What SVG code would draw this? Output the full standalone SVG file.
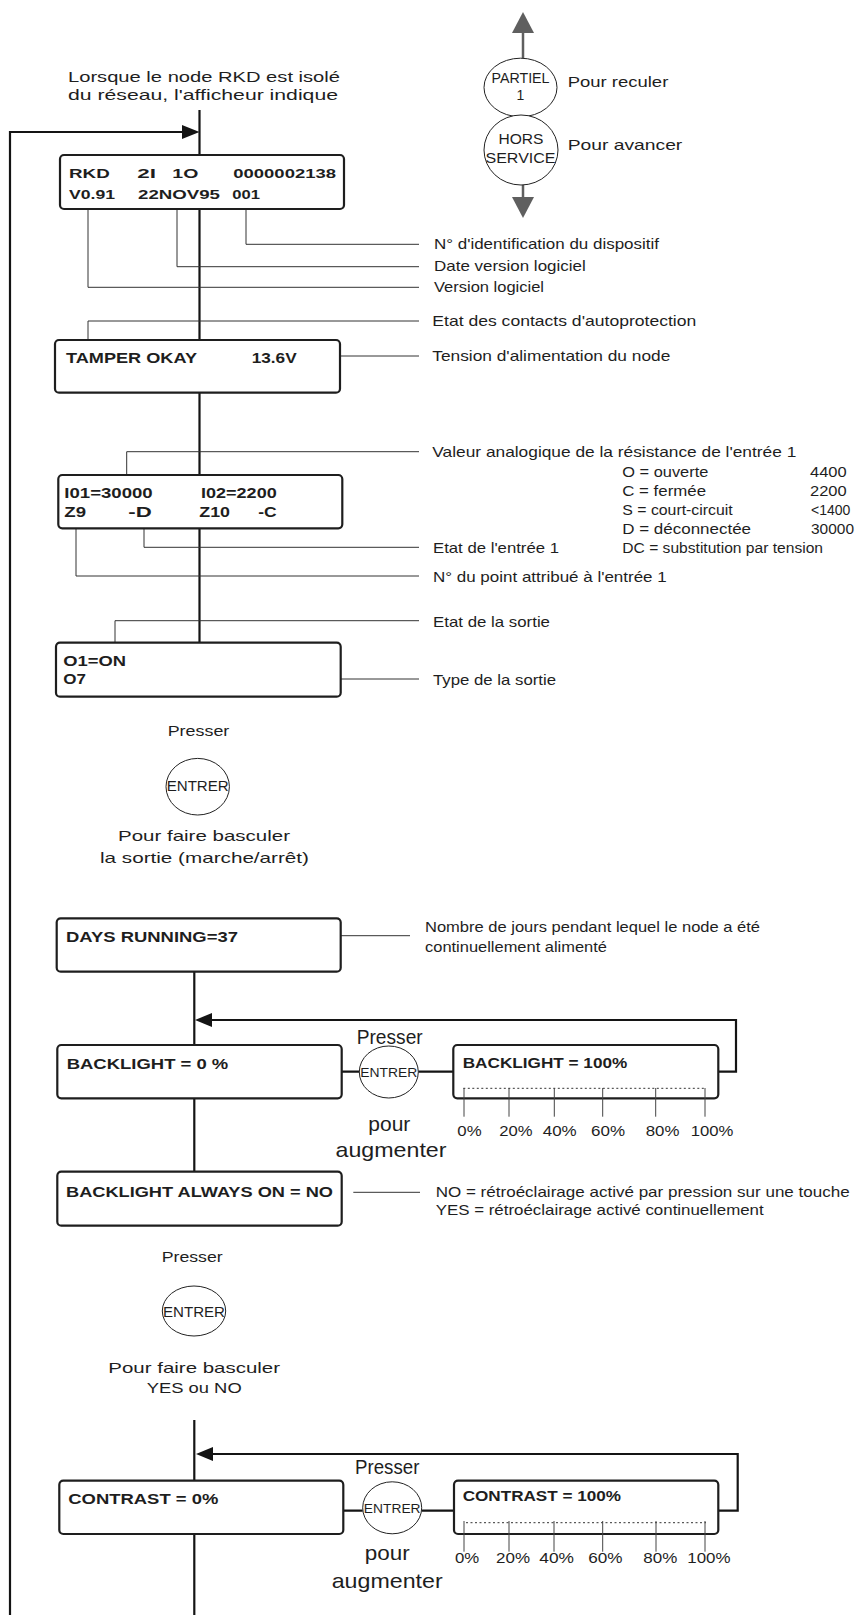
<svg xmlns="http://www.w3.org/2000/svg" width="861" height="1615" viewBox="0 0 861 1615">
<style>
text{font-family:"Liberation Sans",Arial,sans-serif;fill:#1e1e1e}
.l{font-size:15px}
.t{font-size:14px}
.big{font-size:21px}
.b{font-weight:bold;font-size:15.5px}
.b1{font-weight:bold;font-size:13px}
.m{text-anchor:middle}
.box{fill:#fff;stroke:#1e1e1e;stroke-width:2.2}
.main{fill:none;stroke:#141414;stroke-width:2.2}
.lead{fill:none;stroke:#333;stroke-width:1}
.btn{fill:#fff;stroke:#222;stroke-width:1}
.gray{fill:none;stroke:#5f5f5f;stroke-width:2.5}
.tick{fill:none;stroke:#444;stroke-width:1}
.dot{fill:none;stroke:#333;stroke-width:1;stroke-dasharray:2 2.5}
</style>

<g id="connectors">
  <!-- main flow -->
  <path class="main" d="M10,1615 V132 H183"/>
  <polygon points="199.5,132 182,125 182,139" fill="#141414"/>
  <path class="main" d="M199.5,110 V155 M199.5,209 V340 M199.5,392.7 V475 M199.5,528.3 V642.7"/>
  <path class="main" d="M194.3,971.7 V1045 M194.3,1098.3 V1171.7 M194.3,1420 V1480.7 M194.3,1534 V1615"/>
  <!-- backlight loop -->
  <path class="main" d="M211,1020 H736 V1071.7 H718.3"/>
  <polygon points="195,1020 212,1013 212,1027" fill="#141414"/>
  <path class="main" d="M341.7,1071.7 H359.3 M418.3,1071.7 H453.3"/>
  <!-- contrast loop -->
  <path class="main" d="M212,1454 H737.7 V1510.7 H718.3"/>
  <polygon points="196,1454 213,1447 213,1461" fill="#141414"/>
  <path class="main" d="M343.3,1510.7 H362.7 M421.7,1510.7 H454"/>
  <!-- gray navigation arrows -->
  <path class="gray" d="M523,58 V30 M523,185 V200"/>
  <polygon points="523,12 512,33 534,33" fill="#5f5f5f"/>
  <polygon points="523,218 512,197 534,197" fill="#5f5f5f"/>
  <!-- leader lines -->
  <path class="lead" d="M246,203 V244.3 H419"/>
  <path class="lead" d="M177,203 V266.7 H419"/>
  <path class="lead" d="M88,203 V287.3 H419"/>
  <path class="lead" d="M88,343 V321 H419"/>
  <path class="lead" d="M304,356 H419"/>
  <path class="lead" d="M126.7,476 V451.7 H419"/>
  <path class="lead" d="M144,525 V547.3 H419"/>
  <path class="lead" d="M76,525 V576 H419"/>
  <path class="lead" d="M115,647 V620.7 H419"/>
  <path class="lead" d="M94,679 H419"/>
  <path class="lead" d="M245,935.7 H410"/>
  <path class="lead" d="M353.3,1192.3 H420"/>
</g>

<g id="intro">
  <text class="l" x="68" y="82" textLength="272" lengthAdjust="spacingAndGlyphs">Lorsque le node RKD est isolé</text>
  <text class="l" x="68" y="100" textLength="270" lengthAdjust="spacingAndGlyphs">du réseau, l'afficheur indique</text>
</g>

<g id="btn-partiel">
  <ellipse class="btn" cx="520.5" cy="87.5" rx="36.5" ry="29.3"/>
  <text class="m" font-size="14" x="520.5" y="83" textLength="58" lengthAdjust="spacingAndGlyphs">PARTIEL</text>
  <text class="m" font-size="14" x="520.5" y="100">1</text>
  <text class="l" x="567.7" y="87" textLength="100.6" lengthAdjust="spacingAndGlyphs">Pour reculer</text>
</g>
<g id="btn-hors-service">
  <ellipse class="btn" cx="521" cy="150" rx="37" ry="35"/>
  <text class="m" font-size="14" x="521" y="144" textLength="45" lengthAdjust="spacingAndGlyphs">HORS</text>
  <text class="m" font-size="14" x="520.5" y="163" textLength="70" lengthAdjust="spacingAndGlyphs">SERVICE</text>
  <text class="l" x="567.7" y="150" textLength="114.6" lengthAdjust="spacingAndGlyphs">Pour avancer</text>
</g>

<g id="node-rkd">
  <rect class="box" x="60" y="155" width="284" height="54" rx="4"/>
  <text class="b1" x="69" y="178" textLength="40.7" lengthAdjust="spacingAndGlyphs">RKD</text>
  <text class="b1" x="137.3" y="178" textLength="18.7" lengthAdjust="spacingAndGlyphs">2I</text>
  <text class="b1" x="172.3" y="178" textLength="26" lengthAdjust="spacingAndGlyphs">1O</text>
  <text class="b1" x="233.3" y="178" textLength="102.7" lengthAdjust="spacingAndGlyphs">0000002138</text>
  <text class="b1" x="69" y="199" textLength="46" lengthAdjust="spacingAndGlyphs">V0.91</text>
  <text class="b1" x="138" y="199" textLength="82" lengthAdjust="spacingAndGlyphs">22NOV95</text>
  <text class="b1" x="232.3" y="199" textLength="27.7" lengthAdjust="spacingAndGlyphs">001</text>
</g>
<g id="labels-rkd">
  <text class="l" x="434" y="248.5" textLength="225" lengthAdjust="spacingAndGlyphs">N° d'identification du dispositif</text>
  <text class="l" x="434" y="271" textLength="151.7" lengthAdjust="spacingAndGlyphs">Date version logiciel</text>
  <text class="l" x="434" y="291.5" textLength="110" lengthAdjust="spacingAndGlyphs">Version logiciel</text>
</g>

<g id="node-tamper">
  <rect class="box" x="55" y="340" width="285" height="52.7" rx="4"/>
  <text class="b" font-size="16.5" x="66" y="362.7" textLength="131" lengthAdjust="spacingAndGlyphs">TAMPER OKAY</text>
  <text class="b" font-size="16.5" x="251.7" y="362.7" textLength="45" lengthAdjust="spacingAndGlyphs">13.6V</text>
</g>
<g id="labels-tamper">
  <text class="l" x="432.3" y="326" textLength="264" lengthAdjust="spacingAndGlyphs">Etat des contacts d'autoprotection</text>
  <text class="l" x="432.3" y="360.5" textLength="238" lengthAdjust="spacingAndGlyphs">Tension d'alimentation du node</text>
</g>

<g id="node-inputs">
  <rect class="box" x="58.3" y="475" width="284" height="53.3" rx="4"/>
  <text class="b" x="64.3" y="498.3" textLength="88.4" lengthAdjust="spacingAndGlyphs">I01=30000</text>
  <text class="b" x="201" y="498.3" textLength="75.7" lengthAdjust="spacingAndGlyphs">I02=2200</text>
  <text class="b" x="64.3" y="517.3" textLength="21.7" lengthAdjust="spacingAndGlyphs">Z9</text>
  <text class="b" x="128.3" y="517.3" textLength="23.4" lengthAdjust="spacingAndGlyphs">-D</text>
  <text class="b" x="199.3" y="517.3" textLength="30.7" lengthAdjust="spacingAndGlyphs">Z10</text>
  <text class="b" x="258.3" y="517.3" textLength="18.4" lengthAdjust="spacingAndGlyphs">-C</text>
</g>
<g id="labels-inputs">
  <text class="l" x="432.3" y="456.7" textLength="364" lengthAdjust="spacingAndGlyphs">Valeur analogique de la résistance de l'entrée 1</text>
  <text class="t" x="622.3" y="476.7" textLength="86" lengthAdjust="spacingAndGlyphs">O = ouverte</text>
  <text class="t" x="810" y="476.7" textLength="36.7" lengthAdjust="spacingAndGlyphs">4400</text>
  <text class="t" x="622.3" y="496" textLength="83.7" lengthAdjust="spacingAndGlyphs">C = fermée</text>
  <text class="t" x="810" y="496" textLength="36.7" lengthAdjust="spacingAndGlyphs">2200</text>
  <text class="t" x="622.3" y="515" textLength="110.4" lengthAdjust="spacingAndGlyphs">S = court-circuit</text>
  <text font-size="14" x="811" y="515">&#60;1400</text>
  <text class="t" x="622.3" y="534" textLength="128.7" lengthAdjust="spacingAndGlyphs">D = déconnectée</text>
  <text class="t" x="811" y="534" textLength="43" lengthAdjust="spacingAndGlyphs">30000</text>
  <text class="t" x="622.3" y="553.3" textLength="200.7" lengthAdjust="spacingAndGlyphs">DC = substitution par tension</text>
  <text class="l" x="433" y="552.8" textLength="126" lengthAdjust="spacingAndGlyphs">Etat de l'entrée 1</text>
  <text class="l" x="433" y="582" textLength="233.7" lengthAdjust="spacingAndGlyphs">N° du point attribué à l'entrée 1</text>
</g>

<g id="node-output">
  <rect class="box" x="56" y="642.7" width="284.7" height="54" rx="4"/>
  <text class="b" x="63.3" y="666" textLength="62.7" lengthAdjust="spacingAndGlyphs">O1=ON</text>
  <text class="b" x="63.3" y="684" textLength="22.7" lengthAdjust="spacingAndGlyphs">O7</text>
</g>
<g id="labels-output">
  <text class="l" x="433" y="627" textLength="117" lengthAdjust="spacingAndGlyphs">Etat de la sortie</text>
  <text class="l" x="433" y="684.5" textLength="123" lengthAdjust="spacingAndGlyphs">Type de la sortie</text>
</g>

<g id="press-output">
  <text class="l m" x="198.5" y="736" textLength="61.6" lengthAdjust="spacingAndGlyphs">Presser</text>
  <ellipse class="btn" cx="197.7" cy="786.7" rx="31.7" ry="28.3"/>
  <text class="m" font-size="14" x="197.7" y="791" textLength="62" lengthAdjust="spacingAndGlyphs">ENTRER</text>
  <text class="l m" x="204" y="841" textLength="172" lengthAdjust="spacingAndGlyphs">Pour faire basculer</text>
  <text class="l m" x="204.5" y="862.7" textLength="209" lengthAdjust="spacingAndGlyphs">la sortie (marche/arrêt)</text>
</g>

<g id="node-days">
  <rect class="box" x="56.7" y="918.3" width="284" height="53.4" rx="4"/>
  <text class="b" x="66" y="941.7" textLength="172" lengthAdjust="spacingAndGlyphs">DAYS RUNNING=37</text>
  <text class="l" x="425" y="931.7" textLength="335" lengthAdjust="spacingAndGlyphs">Nombre de jours pendant lequel le node a été</text>
  <text class="l" x="425" y="951.7" textLength="182" lengthAdjust="spacingAndGlyphs">continuellement alimenté</text>
</g>

<g id="node-backlight0">
  <rect class="box" x="57.3" y="1045" width="284.4" height="53.3" rx="4"/>
  <text class="b" x="66.7" y="1069.3" textLength="161.6" lengthAdjust="spacingAndGlyphs">BACKLIGHT = 0 %</text>
</g>
<g id="press-backlight">
  <text class="big m" x="389.7" y="1044" textLength="66" lengthAdjust="spacingAndGlyphs">Presser</text>
  <ellipse class="btn" cx="388.8" cy="1072" rx="29.5" ry="26"/>
  <text class="m" font-size="13.5" x="388.8" y="1077.3" textLength="57" lengthAdjust="spacingAndGlyphs">ENTRER</text>
  <text class="big m" x="389.3" y="1131" textLength="42" lengthAdjust="spacingAndGlyphs">pour</text>
  <text class="big m" x="391" y="1157.3" textLength="111" lengthAdjust="spacingAndGlyphs">augmenter</text>
</g>
<g id="node-backlight100">
  <rect class="box" x="453.3" y="1045" width="265" height="53.3" rx="4"/>
  <text class="b" x="462.7" y="1067.7" textLength="164.6" lengthAdjust="spacingAndGlyphs">BACKLIGHT = 100%</text>
  <path class="dot" d="M463.3,1088.3 H705"/>
  <path class="tick" d="M464,1088 V1116.7 M509,1088 V1116.7 M554.3,1088 V1116.7 M602.7,1088 V1116.7 M655.7,1088 V1116.7 M705,1088 V1116.7"/>
  <text class="l" x="457.3" y="1136" textLength="24.3" lengthAdjust="spacingAndGlyphs">0%</text>
  <text class="l" x="499.3" y="1136" textLength="33.3" lengthAdjust="spacingAndGlyphs">20%</text>
  <text class="l" x="542.7" y="1136" textLength="34" lengthAdjust="spacingAndGlyphs">40%</text>
  <text class="l" x="591" y="1136" textLength="34" lengthAdjust="spacingAndGlyphs">60%</text>
  <text class="l" x="645.7" y="1136" textLength="33.7" lengthAdjust="spacingAndGlyphs">80%</text>
  <text class="l" x="690.7" y="1136" textLength="42.7" lengthAdjust="spacingAndGlyphs">100%</text>
</g>

<g id="node-backlight-always">
  <rect class="box" x="57.3" y="1171.7" width="284.4" height="54" rx="4"/>
  <text class="b" x="66" y="1196.7" textLength="267" lengthAdjust="spacingAndGlyphs">BACKLIGHT ALWAYS ON = NO</text>
  <text class="l" x="435.7" y="1197" textLength="414" lengthAdjust="spacingAndGlyphs">NO = rétroéclairage activé par pression sur une touche</text>
  <text class="l" x="435.7" y="1215" textLength="328" lengthAdjust="spacingAndGlyphs">YES = rétroéclairage activé continuellement</text>
</g>
<g id="press-always">
  <text class="l m" x="192.2" y="1261.7" textLength="61" lengthAdjust="spacingAndGlyphs">Presser</text>
  <ellipse class="btn" cx="194" cy="1311" rx="31.7" ry="25"/>
  <text class="m" font-size="14" x="194" y="1317.3" textLength="62" lengthAdjust="spacingAndGlyphs">ENTRER</text>
  <text class="l m" x="194.2" y="1372.7" textLength="171.7" lengthAdjust="spacingAndGlyphs">Pour faire basculer</text>
  <text class="l m" x="194.2" y="1392.7" textLength="95" lengthAdjust="spacingAndGlyphs">YES ou NO</text>
</g>

<g id="node-contrast0">
  <rect class="box" x="59.3" y="1480.7" width="284" height="53.3" rx="4"/>
  <text class="b" x="68.3" y="1504.3" textLength="150" lengthAdjust="spacingAndGlyphs">CONTRAST = 0%</text>
</g>
<g id="press-contrast">
  <text class="big m" x="387.2" y="1474" textLength="64.3" lengthAdjust="spacingAndGlyphs">Presser</text>
  <ellipse class="btn" cx="392.2" cy="1507.8" rx="29.5" ry="26"/>
  <text class="m" font-size="13.5" x="392.2" y="1512.7" textLength="56.7" lengthAdjust="spacingAndGlyphs">ENTRER</text>
  <text class="big m" x="387.3" y="1560" textLength="45" lengthAdjust="spacingAndGlyphs">pour</text>
  <text class="big m" x="387.2" y="1588.3" textLength="111" lengthAdjust="spacingAndGlyphs">augmenter</text>
</g>
<g id="node-contrast100">
  <rect class="box" x="454" y="1480.7" width="264.3" height="53.3" rx="4"/>
  <text class="b" x="462.7" y="1501" textLength="158.3" lengthAdjust="spacingAndGlyphs">CONTRAST = 100%</text>
  <path class="dot" d="M466,1522.7 H706"/>
  <path class="tick" d="M464,1521 V1551.7 M509,1521 V1551.7 M554,1521 V1551.7 M602.7,1521 V1551.7 M656,1521 V1551.7 M705,1521 V1551.7"/>
  <text class="l" x="455" y="1562.7" textLength="24.3" lengthAdjust="spacingAndGlyphs">0%</text>
  <text class="l" x="496" y="1562.7" textLength="34" lengthAdjust="spacingAndGlyphs">20%</text>
  <text class="l" x="539.3" y="1562.7" textLength="34.7" lengthAdjust="spacingAndGlyphs">40%</text>
  <text class="l" x="588.3" y="1562.7" textLength="34.3" lengthAdjust="spacingAndGlyphs">60%</text>
  <text class="l" x="643.3" y="1562.7" textLength="34" lengthAdjust="spacingAndGlyphs">80%</text>
  <text class="l" x="687.3" y="1562.7" textLength="43.3" lengthAdjust="spacingAndGlyphs">100%</text>
</g>
</svg>
